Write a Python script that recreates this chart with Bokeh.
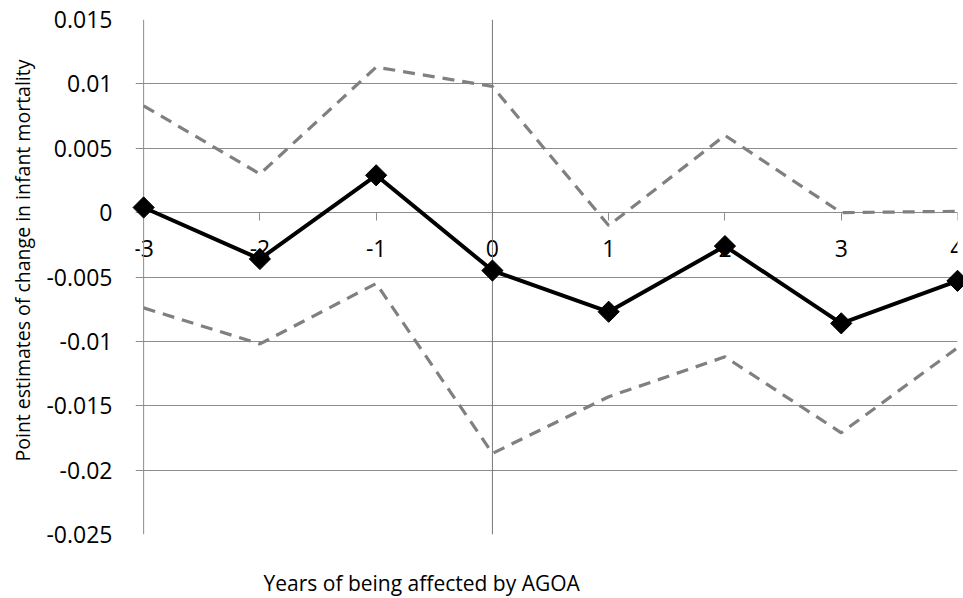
import math
from bokeh.plotting import figure
from bokeh.models import FixedTicker, Span, Title, ColumnDataSource, Range1d
from bokeh.embed import file_html
from bokeh.resources import INLINE

# ---- data ----
years = [-3, -2, -1, 0, 1, 2, 3, 4]
point_est = [0.0004, -0.0036, 0.0029, -0.0045, -0.0077, -0.0026, -0.0086, -0.0053]
upper_ci = [0.0083, 0.0030, 0.0113, 0.0098, -0.0010, 0.0060, 0.0000, 0.0001]
lower_ci = [-0.0074, -0.0102, -0.0055, -0.0187, -0.0143, -0.0112, -0.0171, -0.0105]
y_ticks = [0.015, 0.01, 0.005, 0, -0.005, -0.01, -0.015, -0.02, -0.025]
y_tick_labels = ["0.015", "0.01", "0.005", "0", "-0.005", "-0.01", "-0.015", "-0.02", "-0.025"]
x_tick_labels = ["-3", "-2", "-1", "0", "1", "2", "3", "4"]
x_title = "Years of being affected by AGOA"
y_title = "Point estimates of change in infant mortality"

FONT = "Open Sans"
GRID = "#8c8c8c"

src = ColumnDataSource(dict(x=years, est=point_est, up=upper_ci, lo=lower_ci))

p = figure(width=963, height=598, output_backend="svg", toolbar_location=None,
           x_range=Range1d(years[0] - 0.07, years[-1]),
           y_range=Range1d(-0.025, 0.015))
p.min_border_left = 135
p.min_border_right = 6
p.min_border_top = 19
p.min_border_bottom = 63
p.outline_line_color = None
p.background_fill_color = "white"
p.border_fill_color = "white"

# y axis (labels only; the axis line is drawn at the first year)
p.yaxis.ticker = FixedTicker(ticks=y_ticks)
p.yaxis.major_label_overrides = {t: l for t, l in zip(y_ticks, y_tick_labels)}
p.yaxis.major_label_text_font = FONT
p.yaxis.major_label_text_font_size = "23px"
p.yaxis.major_label_text_color = "#000000"
p.yaxis.major_tick_line_color = None
p.yaxis.minor_tick_line_color = None
p.yaxis.axis_line_color = None
p.yaxis.major_label_standoff = 17

# x axis at y = 0
p.xaxis.fixed_location = 0
p.xaxis.ticker = FixedTicker(ticks=years)
p.xaxis.major_label_overrides = {t: l for t, l in zip(years, x_tick_labels)}
p.xaxis.major_label_text_font = FONT
p.xaxis.major_label_text_font_size = "23px"
p.xaxis.major_label_text_color = "#000000"
p.xaxis.major_tick_out = 8
p.xaxis.major_tick_in = 0
p.xaxis.minor_tick_line_color = None
p.xaxis.major_tick_line_color = GRID
p.xaxis.axis_line_color = GRID
p.xaxis.major_label_standoff = 19

# grid
p.xgrid.grid_line_color = None
p.ygrid.grid_line_color = GRID
p.ygrid.grid_line_width = 1

# vertical lines: left border at first year, value axis at year 0
p.add_layout(Span(location=years[0], dimension="height", line_color=GRID, line_width=1))
p.add_layout(Span(location=0, dimension="height", line_color="#777777", line_width=1))

# series
for col in ("up", "lo"):
    r = p.line("x", col, source=src, line_color="#808080", line_width=3.2,
               line_dash="12 8")
    r.level = "overlay"
r = p.line("x", "est", source=src, line_color="black", line_width=4)
r.level = "overlay"
r = p.scatter("x", "est", source=src, marker="square", angle=math.pi / 4,
              size=15, fill_color="black", line_color="black")
r.level = "overlay"

# titles (a blank spacer pushes the x title down in the bottom panel)
p.add_layout(Title(text=" ", standoff=0, text_font=FONT, text_font_size="21px",
                   text_font_style="normal"), "below")
p.add_layout(Title(text=x_title, align="left", offset=128, standoff=4,
                   text_font=FONT, text_font_size="21px",
                   text_font_style="normal", text_color="#000000"), "below")
p.add_layout(Title(text=y_title, align="left", offset=73, standoff=11,
                   vertical_align="top",
                   text_font=FONT, text_font_size="19.5px",
                   text_font_style="normal", text_color="#000000"), "left")

open("out.html", "w").write(file_html(p, INLINE))
